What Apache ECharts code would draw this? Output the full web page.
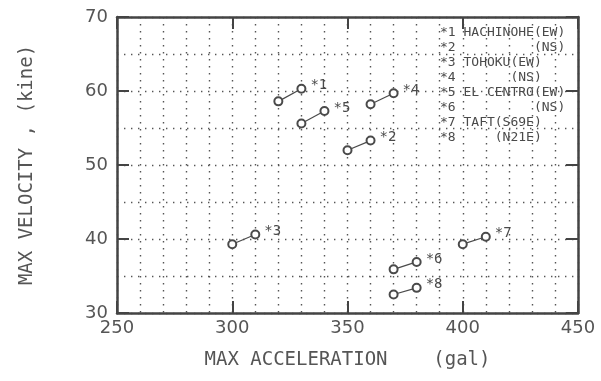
<!DOCTYPE html>
<html>
<head>
<meta charset="utf-8">
<script src="https://cdn.jsdelivr.net/npm/echarts@6/dist/echarts.min.js"></script>
<style>
  html, body { margin: 0; padding: 0; background: #fff; }
</style>
</head>
<body>
<div id="main" style="width: 601px;height:381px;"></div>
<script>
// pairs of records: start point and end point of each line
var tags = ['*1', '*2', '*3', '*4', '*5', '*6', '*7', '*8'];
var accStart = [320, 350, 300, 360, 330, 370, 400, 370];
var accEnd = [330, 360, 310, 370, 340, 380, 410, 380];
var velStart = [58.6, 52.0, 39.3, 58.2, 55.6, 35.9, 39.3, 32.5];
var velEnd = [60.3, 53.3, 40.6, 59.7, 57.3, 36.9, 40.3, 33.4];

var legendLines = [
  '*1 HACHINOHE(EW)',
  '*2          (NS)',
  '*3 TOHOKU(EW)',
  '*4       (NS)',
  '*5 EL CENTRO(EW)',
  '*6          (NS)',
  '*7 TAFT(S69E)',
  '*8     (N21E)'
];

var ink = '#4a4a4a';
var mono = '"DejaVu Sans Mono", "Liberation Mono", monospace';

var myChart = echarts.init(document.getElementById('main'));

var series = tags.map(function(tag, i) {
  return {
    name: tag,
    type: 'line',
    data: [
      [accStart[i], velStart[i]],
      {
        value: [accEnd[i], velEnd[i]],
        label: {
          show: true,
          position: 'right',
          offset: [-1, -3],
          formatter: tag,
          fontFamily: mono,
          fontSize: 14,
          color: ink
        }
      }
    ],
    symbol: 'emptyCircle',
    symbolSize: 8,
    itemStyle: { color: ink, borderWidth: 1.2 },
    lineStyle: { color: ink, width: 1.2 },
    emphasis: { disabled: true },
    animation: false
  };
});

var dotted = { color: '#555', width: 1.4, type: [1.4, 5.6] };

function axisBase() {
  return {
    type: 'value',
    axisLine: { show: true, lineStyle: { color: '#444', width: 2.5 } },
    axisTick: { show: true, inside: true, length: 12, lineStyle: { color: '#444', width: 2 } },
    splitLine: { show: false },
    minorTick: { show: false },
    minorSplitLine: { show: false }
  };
}

var xMain = axisBase();
xMain.min = 250; xMain.max = 450; xMain.interval = 50;
xMain.position = 'bottom';
xMain.axisLabel = { fontFamily: '"DejaVu Sans", sans-serif', fontSize: 18, color: '#555', margin: 6 };
xMain.splitLine = { show: true, lineStyle: dotted };
xMain.minorTick = { show: false, splitNumber: 5 };
xMain.minorSplitLine = { show: true, lineStyle: dotted };
xMain.name = 'MAX ACCELERATION    (gal)';
xMain.nameLocation = 'middle';
xMain.nameGap = 38;
xMain.nameTextStyle = { fontFamily: mono, fontSize: 19, color: '#555' };

var xTop = axisBase();
xTop.min = 250; xTop.max = 450; xTop.interval = 50;
xTop.position = 'top';
xTop.axisLabel = { show: false };

var yMain = axisBase();
yMain.min = 30; yMain.max = 70; yMain.interval = 10;
yMain.position = 'left';
yMain.axisLabel = { fontFamily: '"DejaVu Sans", sans-serif', fontSize: 18, color: '#555', margin: 9 };
yMain.splitLine = { show: true, lineStyle: dotted };
yMain.minorTick = { show: false, splitNumber: 2 };
yMain.minorSplitLine = { show: true, lineStyle: dotted };
yMain.name = 'MAX VELOCITY , (kine)';
yMain.nameLocation = 'middle';
yMain.nameGap = 80;
yMain.nameTextStyle = { fontFamily: mono, fontSize: 19, color: '#555' };

var yRight = axisBase();
yRight.min = 30; yRight.max = 70; yRight.interval = 10;
yRight.position = 'right';
yRight.axisLabel = { show: false };

var legendTexts = legendLines.map(function(line, i) {
  return {
    type: 'text',
    left: 440,
    top: 26 + i * 15,
    style: {
      text: line,
      font: '13px ' + mono,
      fill: ink
    }
  };
});

var option = {
  backgroundColor: '#fff',
  animation: false,
  grid: { left: 117, top: 17, right: 23, bottom: 68, containLabel: false },
  xAxis: [xMain, xTop],
  yAxis: [yMain, yRight],
  graphic: legendTexts,
  series: series
};

myChart.setOption(option);
</script>
</body>
</html>
